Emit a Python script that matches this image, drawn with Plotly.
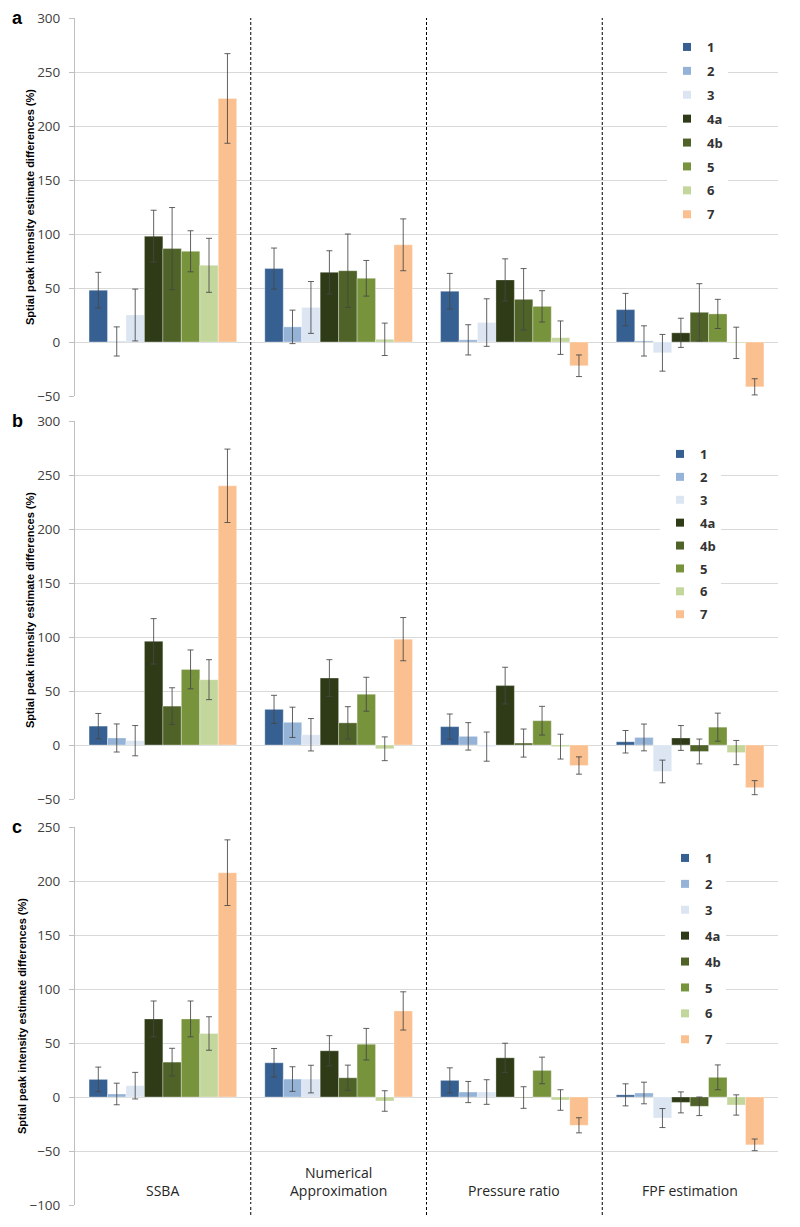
import plotly.graph_objects as go

categories = ["SSBA", "Numerical<br>Approximation", "Pressure ratio", "FPF estimation"]
series = ["1", "2", "3", "4a", "4b", "5", "6", "7"]
colors = ["#376092", "#95b3d7", "#dce6f2", "#2f3b17", "#4f6228", "#77933c", "#c3d69b", "#fac090"]

# rows = series (1,2,3,4a,4b,5,6,7); columns = categories
a_values = [[48, 68, 47, 30], [0.5, 14, 2, 1], [25, 32, 18, -10], [98, 64.5, 57.5, 8.5],
            [86.5, 66, 39.5, 27.5], [84, 59, 33, 26], [71, 2.5, 4, -0.8], [225.5, 90, -22, -41.5]]
a_errors = [[16.5, 19, 16.5, 15], [13.5, 15.5, 14, 14], [24, 24, 22, 17], [24, 20, 19.5, 13.5],
            [38, 34, 28.5, 26.5], [19, 16.5, 14.5, 13.5], [25, 15, 15.5, 14.5], [41.5, 24, 10, 7.5]]

b_values = [[17.5, 33, 17, 3], [6.5, 21, 8, 7], [4, 9.5, -1.5, -24.5], [96, 62, 55, 6.5],
            [36, 20.5, 1.8, -6], [70, 47, 22.5, 16.5], [60.5, -3.5, -1.5, -7], [240, 98, -19, -39.5]]
b_errors = [[11.7, 13, 11.7, 10.4], [13, 14, 12.7, 12.4], [14, 15, 13.5, 10.5], [21, 17, 17, 11.5],
            [17, 15, 13, 11.5], [18, 15.7, 13.3, 13], [18.5, 11, 11.5, 11.2], [34, 20, 8, 6.5]]

c_values = [[16.3, 31.7, 15.4, 2], [2.8, 16.6, 4.6, 3.7], [10.5, 16.6, 4.6, -19.5], [72.3, 42.8, 36.3, -5],
            [32.3, 17.8, -0.5, -8.6], [72.3, 48.9, 24.6, 18.2], [58.8, -3.7, -2.8, -7.4], [207.7, 79.7, -26.2, -44.3]]
c_errors = [[11.4, 13.2, 11.6, 10.2], [10, 11.4, 9.8, 10], [12.3, 12.8, 11.4, 8.8], [16.6, 14, 13.5, 9.7],
            [12.8, 11.7, 10, 8.6], [16.6, 14.6, 12.3, 11.5], [15.5, 9.5, 9.5, 9.4], [30.4, 17.7, 7, 5.4]]

panel_letters = ["a", "b", "c"]
y_ranges = [[-50, 300], [-50, 300], [-100, 250]]
y_title = "Sptial peak intensity estimate differences (%)"

W, H = 800, 1227
OFF = 8  # page body margin offset


def X(px):
    return (px - OFF) / W


def Y(px):
    return 1 - (px - OFF) / H


# on-screen pixel geometry of the panels (top, bottom)
panel_px = [(18, 396), (421, 799), (827, 1205)]
legend_px = [(667, 32, 4), (660, 439, 3), (665, 843, 6)]  # x-left, y-top, group gap

fig = go.Figure()
panels = [(a_values, a_errors), (b_values, b_errors), (c_values, c_errors)]
for p, (vals, errs) in enumerate(panels):
    xa = "x" if p == 0 else f"x{p+1}"
    ya = "y" if p == 0 else f"y{p+1}"
    lg = "legend" if p == 0 else f"legend{p+1}"
    for i, s in enumerate(series):
        fig.add_trace(go.Bar(
            x=categories, y=vals[i], name=s, showlegend=False,
            marker=dict(color=colors[i], line=dict(width=0.6, color="rgba(255,255,255,0.55)")),
            error_y=dict(type="data", array=errs[i], visible=True,
                         color="rgba(70,70,70,0.85)", thickness=1, width=3),
            xaxis=xa, yaxis=ya, legendgroup=f"{p}{s}",
        ))
    # legend entries with small square keys
    for i, s in enumerate(series):
        fig.add_trace(go.Scatter(
            x=[None], y=[None], mode="markers", name=s,
            marker=dict(symbol="square", size=8, color=colors[i]),
            xaxis=xa, yaxis=ya, legend=lg, legendgroup=f"{p}{s}", showlegend=True,
        ))

layout = dict(
    width=W, height=H, barmode="group", bargap=0.16, bargroupgap=0,
    margin=dict(l=0, r=0, t=0, b=0, autoexpand=False),
    plot_bgcolor="white", paper_bgcolor="white",
    font=dict(family="Open Sans, sans-serif", color="#404040"),
    showlegend=True,
)
for p in range(3):
    top, bot = panel_px[p]
    xk = "xaxis" if p == 0 else f"xaxis{p+1}"
    yk = "yaxis" if p == 0 else f"yaxis{p+1}"
    ya = "y" if p == 0 else f"y{p+1}"
    xa = "x" if p == 0 else f"x{p+1}"
    layout[xk] = dict(domain=[X(75), X(778)], anchor=ya, type="category",
                      showgrid=False, showline=False, ticks="", showticklabels=False,
                      range=[-0.5, 3.5], fixedrange=True)
    layout[yk] = dict(domain=[Y(bot), Y(top)], anchor=xa, range=y_ranges[p],
                      dtick=50, tick0=0, showgrid=True, gridcolor="#d9d9d9", gridwidth=1,
                      zeroline=False, showline=True, linecolor="#bfbfbf", linewidth=1,
                      ticks="outside", ticklen=5, tickcolor="#bfbfbf", ticklabelstandoff=6,
                      tickfont=dict(size=13.5, color="#404040", family="Open Sans, sans-serif"),
                      title=dict(text=y_title, standoff=0,
                                 font=dict(size=11, color="#000000",
                                           family="Liberation Sans Narrow, Arial Narrow, Liberation Sans, sans-serif",
                                           weight="bold")))
    lk = "legend" if p == 0 else f"legend{p+1}"
    lx, ly, gap = legend_px[p]
    layout[lk] = dict(x=X(lx), y=Y(ly), xanchor="left", yanchor="top",
                      bgcolor="white", borderwidth=0, tracegroupgap=gap,
                      traceorder="grouped", itemwidth=30,
                      font=dict(size=13, color="#333333", family="Open Sans, sans-serif", weight="bold"))

fig.update_layout(**layout)

# panel letters
for p in range(3):
    fig.add_annotation(text=f"<b>{panel_letters[p]}</b>", x=X(17), y=Y(panel_px[p][0]),
                       xref="paper", yref="paper", showarrow=False, xanchor="center", yanchor="middle",
                       font=dict(size=18, color="#000000", family="Arial, Liberation Sans, sans-serif"))

# category labels along the bottom of panel c
for cat in categories:
    fig.add_annotation(text=cat, x=cat, y=-100, xref="x3", yref="y3", showarrow=False,
                       xanchor="center", yanchor="bottom", yshift=3, bgcolor="white",
                       font=dict(size=14, color="#262626", family="Open Sans, sans-serif"))

# dashed separators between method groups
for xb in [0.5, 1.5, 2.5]:
    fig.add_shape(type="line", xref="x", yref="paper", x0=xb, x1=xb, y0=Y(1215), y1=Y(18),
                  line=dict(color="#000000", width=1, dash="3px,2px"), layer="above")

# hidden bottom gridline under the first two category labels (panel c)
fig.add_shape(type="line", xref="x3", yref="y3", x0=-0.49, x1=1.5, y0=-100, y1=-100,
              line=dict(color="white", width=2), layer="above")

fig.write_html("out.html")
